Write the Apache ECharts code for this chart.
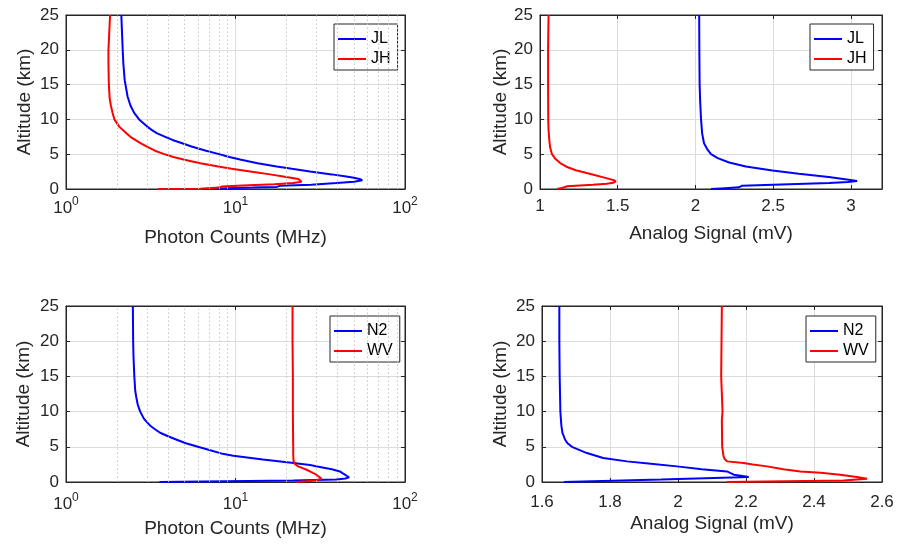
<!DOCTYPE html>
<html>
<head>
<meta charset="utf-8">
<script src="https://cdn.jsdelivr.net/npm/echarts@6/dist/echarts.min.js"></script>
<style>
html,body{margin:0;padding:0;background:#fff;}
#c{width:898px;height:546px;}
</style>
</head>
<body>
<div id="c"></div>
<script>
// ---------- Panel 1: Photon Counts (MHz), JL / JH ----------
const altJLphoton = [0, 0.1, 0.2, 0.3, 0.45, 0.6, 0.86, 1.05, 1.25, 1.45, 1.65, 1.81, 2.1, 2.52, 2.9, 3.24, 3.7, 4.19, 4.6, 5.05, 5.5, 6.1, 6.6, 7.05, 7.5, 8, 8.5, 9, 10, 10.9, 12, 13.25, 15.6, 18, 20, 22.5, 25];
const valJLphoton = [6.3, 8.9, 12.6, 17.5, 18.3, 28, 39.5, 50, 56, 54, 49, 45, 37, 27.5, 21.5, 17.5, 13.5, 10.8, 9.2, 7.9, 6.7, 5.5, 4.8, 4.25, 3.85, 3.45, 3.2, 3.0, 2.7, 2.53, 2.4, 2.31, 2.22, 2.18, 2.16, 2.14, 2.12];
const altJHphoton = [0, 0.05, 0.2, 0.35, 0.5, 0.7, 0.86, 1.05, 1.24, 1.45, 1.81, 2.1, 2.52, 2.9, 3.24, 3.7, 4.19, 4.6, 5.05, 5.5, 6.1, 6.6, 7.05, 7.5, 8, 8.96, 10, 11, 12, 13, 15, 18, 20, 22.5, 25];
const valJHphoton = [3.5, 6.2, 8.0, 8.3, 11, 17, 21.9, 24.5, 25.1, 23.5, 19.1, 16, 12.2, 9.5, 7.9, 6.2, 5.0, 4.3, 3.76, 3.35, 3.0, 2.75, 2.56, 2.4, 2.27, 2.06, 1.93, 1.88, 1.84, 1.81, 1.79, 1.78, 1.78, 1.8, 1.82];

// ---------- Panel 2: Analog Signal (mV), JL / JH ----------
const altJLanalog = [0, 0.12, 0.24, 0.4, 0.48, 0.62, 0.86, 1.0, 1.14, 1.33, 1.71, 2.19, 2.67, 3.24, 3.81, 4.43, 5.0, 5.62, 6.57, 8, 10, 12.76, 15, 20, 25];
const valJLanalog = [2.10, 2.19, 2.28, 2.29, 2.30, 2.50, 2.86, 2.98, 3.04, 2.985, 2.857, 2.665, 2.495, 2.324, 2.217, 2.143, 2.10, 2.079, 2.055, 2.043, 2.036, 2.030, 2.027, 2.025, 2.024];
const altJHanalog = [0, 0.15, 0.29, 0.4, 0.48, 0.62, 0.76, 0.9, 1.09, 1.3, 1.6, 2.0, 2.29, 2.7, 3.2, 3.72, 4.3, 5, 6, 7, 8.5, 10, 15, 20, 25];
const valJHanalog = [1.109, 1.14, 1.162, 1.175, 1.183, 1.34, 1.43, 1.47, 1.488, 1.47, 1.42, 1.35, 1.30, 1.23, 1.17, 1.13, 1.10, 1.077, 1.065, 1.06, 1.055, 1.053, 1.052, 1.052, 1.055];

// ---------- Panel 3: Photon Counts (MHz), N2 / WV ----------
const altN2photon = [0, 0.1, 0.2, 0.35, 0.5, 0.67, 0.85, 1.04, 1.3, 1.5, 1.8, 2.1, 2.4, 2.69, 3.2, 3.73, 4, 4.5, 5, 5.5, 6, 6.5, 7, 7.5, 8, 8.5, 9, 10, 11, 12, 13, 15, 18, 20, 25];
const valN2photon = [3.56, 8.8, 21.9, 39.4, 44.5, 46.8, 45.5, 44.2, 42.5, 41.3, 37, 32, 27.5, 22, 14.5, 9.7, 8.4, 7.1, 6.0, 5.1, 4.5, 4.0, 3.59, 3.35, 3.14, 3.0, 2.88, 2.74, 2.65, 2.6, 2.56, 2.53, 2.5, 2.49, 2.48];
const altWVphoton = [0, 0.12, 0.26, 0.47, 0.7, 1.04, 1.4, 1.74, 2.22, 2.6, 3, 4, 5, 7, 10, 15, 20, 25];
const valWVphoton = [22.9, 26, 30, 32.2, 31.5, 30, 28, 26.3, 23.4, 22.3, 22.0, 21.9, 21.9, 21.85, 21.8, 21.8, 21.7, 21.7];

// ---------- Panel 4: Analog Signal (mV), N2 / WV ----------
const altN2analog = [0, 0.35, 0.71, 0.9, 1.04, 1.2, 1.36, 1.5, 1.8, 2.22, 2.6, 2.93, 3.4, 4.11, 5, 5.5, 6, 7, 8, 10, 15, 20, 25];
const valN2analog = [1.664, 1.95, 2.208, 2.185, 2.164, 2.158, 2.155, 2.144, 2.07, 1.997, 1.92, 1.85, 1.78, 1.732, 1.688, 1.675, 1.668, 1.66, 1.657, 1.654, 1.652, 1.651, 1.651];
const altWVanalog = [0, 0.23, 0.47, 0.71, 1.04, 1.3, 1.5, 1.8, 2.22, 2.5, 2.69, 2.93, 3.3, 3.64, 5, 8.84, 10, 15, 20, 25];
const valWVanalog = [2.143, 2.487, 2.556, 2.526, 2.477, 2.42, 2.36, 2.31, 2.262, 2.22, 2.193, 2.144, 2.137, 2.134, 2.13, 2.129, 2.131, 2.127, 2.128, 2.129];

// ---------- Axis ticks ----------
const logMinorTicks = [2, 3, 4, 5, 6, 7, 8, 9, 20, 30, 40, 50, 60, 70, 80, 90];

const FONT = "'Liberation Sans', Arial, Helvetica, sans-serif";
const AX = '#262626';
const GRIDC = '#dcdcdc';
const BLUE = '#0000ff';
const RED = '#ff0000';

function zip(vals, alts) { return vals.map((v, i) => [v, alts[i]]); }

const gridPos = [
  { left: 66, top: 15, width: 339, height: 174 },
  { left: 540, top: 15, width: 342, height: 174 },
  { left: 66, top: 306, width: 339, height: 176 },
  { left: 542, top: 306, width: 340, height: 176 }
];

const grids = gridPos.map(g => Object.assign({
  show: true, borderColor: AX, borderWidth: 1, backgroundColor: '#fff',
  containLabel: false, outerBoundsMode: 'none'
}, g));

const tickStyle = { show: true, inside: true, length: 4, lineStyle: { color: AX, width: 1 } };
const lineStyleAx = { show: true, onZero: false, lineStyle: { color: AX, width: 1 } };
const nameStyle = { fontSize: 19, color: AX, fontFamily: FONT };

function logMain(gi, margin, nameGap) {
  return {
    gridIndex: gi, type: 'log', logBase: 10, min: 1, max: 100, position: 'bottom',
    name: 'Photon Counts (MHz)', nameLocation: 'middle', nameGap: nameGap, nameMoveOverlap: false,
    nameTextStyle: nameStyle,
    axisLine: lineStyleAx, axisTick: tickStyle,
    axisLabel: {
      margin: margin, color: AX, fontFamily: FONT,
      formatter: v => '{b|10}{s|' + Math.round(Math.log10(v)) + '}',
      rich: {
        b: { fontSize: 17, color: AX, fontFamily: FONT, padding: [4, 0, 0, 0], verticalAlign: 'bottom' },
        s: { fontSize: 12, color: AX, fontFamily: FONT, verticalAlign: 'top' }
      }
    },
    splitLine: { show: true, lineStyle: { color: GRIDC, width: 1 } }
  };
}
function linMain(gi, min, max, interval, margin, nameGap, showMax) {
  return {
    gridIndex: gi, type: 'value', min: min, max: max, interval: interval, position: 'bottom',
    name: 'Analog Signal (mV)', nameLocation: 'middle', nameGap: nameGap, nameMoveOverlap: false,
    nameTextStyle: nameStyle,
    axisLine: lineStyleAx, axisTick: tickStyle,
    axisLabel: { margin: margin, fontSize: 17, color: AX, fontFamily: FONT, showMaxLabel: showMax, showMinLabel: true },
    splitLine: { show: true, lineStyle: { color: GRIDC, width: 1 } }
  };
}
function topAxis(gi, type, min, max, interval) {
  const a = {
    gridIndex: gi, type: type, min: min, max: max, position: 'top',
    axisLine: lineStyleAx, axisTick: tickStyle,
    axisLabel: { show: false }, splitLine: { show: false }
  };
  if (type === 'log') a.logBase = 10; else a.interval = interval;
  return a;
}
function yMain(gi, nameGap) {
  return {
    gridIndex: gi, type: 'value', min: 0, max: 25, interval: 5, position: 'left',
    name: 'Altitude (km)', nameLocation: 'middle', nameGap: nameGap, nameRotate: 90, nameMoveOverlap: false,
    nameTextStyle: nameStyle,
    axisLine: lineStyleAx, axisTick: tickStyle,
    axisLabel: { margin: 7, fontSize: 17, color: AX, fontFamily: FONT },
    splitLine: { show: true, lineStyle: { color: GRIDC, width: 1 } }
  };
}
function yRight(gi) {
  return {
    gridIndex: gi, type: 'value', min: 0, max: 25, interval: 5, position: 'right',
    axisLine: lineStyleAx, axisTick: tickStyle,
    axisLabel: { show: false }, splitLine: { show: false }
  };
}

const xAxes = [
  logMain(0, 7, 39),
  linMain(1, 1, 3.2, 0.5, 9, 35, false),
  logMain(2, 10, 37),
  linMain(3, 1.6, 2.6, 0.2, 12, 32, true),
  topAxis(0, 'log', 1, 100),
  topAxis(1, 'value', 1, 3.2, 0.5),
  topAxis(2, 'log', 1, 100),
  topAxis(3, 'value', 1.6, 2.6, 0.2)
];
const yAxes = [
  yMain(0, 32), yMain(1, 30), yMain(2, 33), yMain(3, 32),
  yRight(0), yRight(1), yRight(2), yRight(3)
];

function lineSeries(name, color, gi, data) {
  return {
    name: name, type: 'line', xAxisIndex: gi, yAxisIndex: gi,
    data: data, showSymbol: false, symbol: 'none', smooth: false,
    color: color, itemStyle: { color: color },
    lineStyle: { color: color, width: 2 }, z: 3, silent: true
  };
}
function minorGrid(gi) {
  return {
    name: 'minor' + gi, type: 'line', xAxisIndex: gi, yAxisIndex: gi, data: [], z: 1, silent: true,
    markLine: {
      silent: true, symbol: ['none', 'none'], animation: false,
      label: { show: false },
      lineStyle: { type: [1.5, 2.5], color: '#c6c6c6', width: 1 },
      emphasis: { disabled: true },
      data: logMinorTicks.map(v => ({ xAxis: v }))
    }
  };
}

const legendBase = {
  orient: 'vertical', icon: 'rect', itemWidth: 28, itemHeight: 2, itemGap: 4,
  padding: [7, 7, 3, 4], borderColor: AX, borderWidth: 1, borderRadius: 0,
  backgroundColor: '#fff', selectedMode: false,
  textStyle: { fontSize: 16, color: '#000', fontFamily: FONT }
};

const option = {
  animation: false,
  backgroundColor: '#fff',
  grid: grids,
  xAxis: xAxes,
  yAxis: yAxes,
  legend: [
    Object.assign({}, legendBase, { data: ['JL', 'JH'], left: 334, top: 24 }),
    Object.assign({}, legendBase, { data: ['JL', 'JH'], left: 810, top: 24 }),
    Object.assign({}, legendBase, { data: ['N2', 'WV'], left: 330, top: 316 }),
    Object.assign({}, legendBase, { data: ['N2', 'WV'], left: 806, top: 316 })
  ],
  series: [
    minorGrid(0), minorGrid(2),
    lineSeries('JL', BLUE, 0, zip(valJLphoton, altJLphoton)),
    lineSeries('JH', RED, 0, zip(valJHphoton, altJHphoton)),
    lineSeries('JL', BLUE, 1, zip(valJLanalog, altJLanalog)),
    lineSeries('JH', RED, 1, zip(valJHanalog, altJHanalog)),
    lineSeries('N2', BLUE, 2, zip(valN2photon, altN2photon)),
    lineSeries('WV', RED, 2, zip(valWVphoton, altWVphoton)),
    lineSeries('N2', BLUE, 3, zip(valN2analog, altN2analog)),
    lineSeries('WV', RED, 3, zip(valWVanalog, altWVanalog))
  ]
};

const chart = echarts.init(document.getElementById('c'), null, { renderer: 'canvas', width: 898, height: 546 });
chart.setOption(option);
</script>
</body>
</html>
